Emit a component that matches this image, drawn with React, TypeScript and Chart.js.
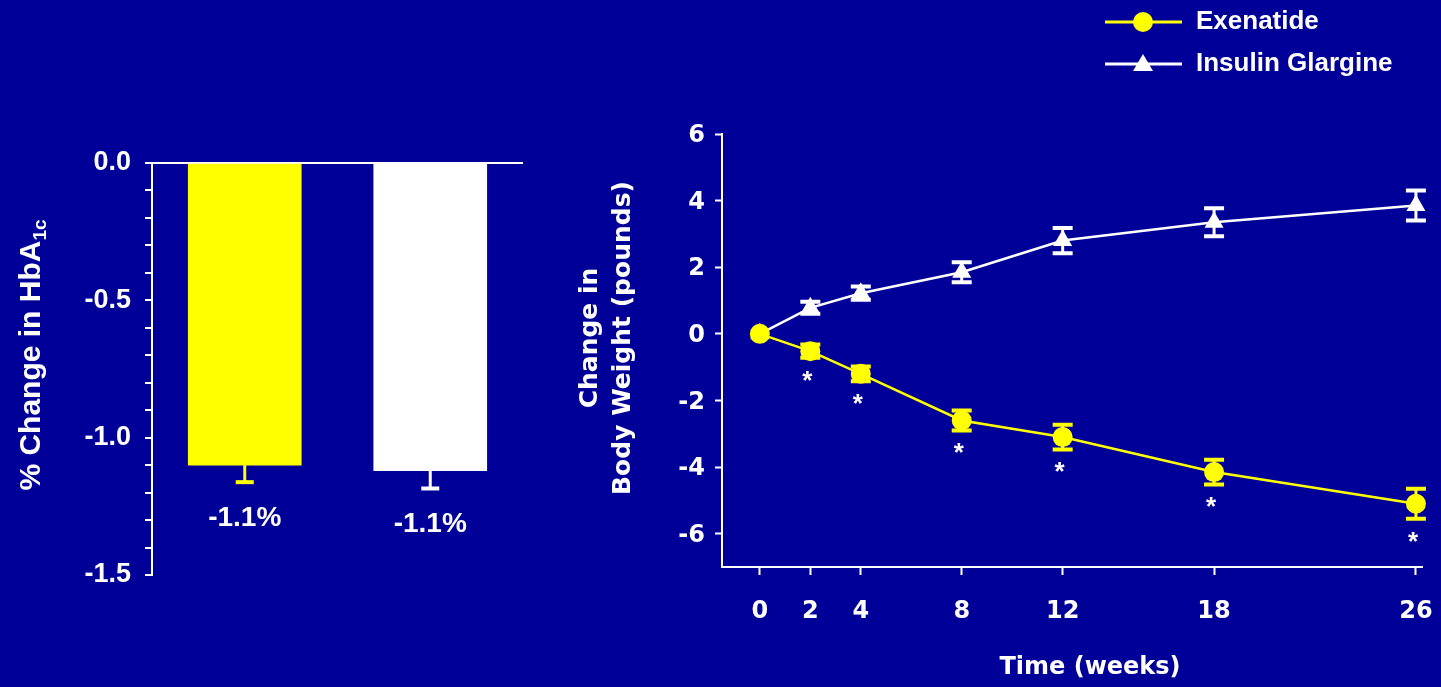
import React, { useEffect, useRef } from "react";
import { Chart, registerables } from "chart.js";

Chart.register(...registerables);

const BG = "#000099";
const YELLOW = "#FFFF00";
const WHITE = "#FFFFFF";
const ARIAL = "'Liberation Sans', Arial, sans-serif";
const WIDE = "'DejaVu Sans', Verdana, sans-serif";

// ---- Left chart: HbA1c change ----
const hba1cGroups = ["Exenatide", "Insulin Glargine"];
const hba1cChange = [-1.1, -1.12];
const hba1cError = [0.062, 0.065];
const hba1cLabels = ["-1.1%", "-1.1%"];
const hba1cColors = [YELLOW, WHITE];

// ---- Right chart: body weight change ----
const weeks = [0, 2, 4, 8, 12, 18, 26];
const exenatideWeight = [0, -0.52, -1.2, -2.6, -3.1, -4.15, -5.1];
const exenatideError = [0, 0.2, 0.22, 0.3, 0.37, 0.37, 0.45];
const glargineWeight = [0, 0.78, 1.22, 1.85, 2.8, 3.35, 3.85];
const glargineError = [0, 0.18, 0.2, 0.3, 0.38, 0.42, 0.45];
const exenatideSignificant = [false, true, true, true, true, true, true];
const weekTicks = [0, 2, 4, 8, 12, 18, 26];
const seriesNames = ["Exenatide", "Insulin Glargine"];

const leftPlugin = {
  id: "leftExtras",
  afterDatasetsDraw(chart: any) {
    const ctx = chart.ctx;
    const y = chart.scales.y;
    const meta = chart.getDatasetMeta(0);
    ctx.save();
    meta.data.forEach((bar: any, i: number) => {
      const color = hba1cColors[i];
      const top = y.getPixelForValue(hba1cChange[i]);
      const bot = y.getPixelForValue(hba1cChange[i] - hba1cError[i]);
      ctx.strokeStyle = color;
      ctx.lineWidth = 3;
      ctx.beginPath();
      ctx.moveTo(bar.x, top);
      ctx.lineTo(bar.x, bot);
      ctx.stroke();
      ctx.lineWidth = 4;
      ctx.beginPath();
      ctx.moveTo(bar.x - 9, bot);
      ctx.lineTo(bar.x + 9, bot);
      ctx.stroke();
      ctx.fillStyle = WHITE;
      ctx.font = `bold 28px ${ARIAL}`;
      ctx.textAlign = "center";
      ctx.textBaseline = "middle";
      ctx.fillText(hba1cLabels[i], bar.x, bot + 36);
    });
    // rotated y title with subscript
    const main = "% Change in HbA";
    const sub = "1c";
    ctx.translate(30, 355);
    ctx.rotate(-Math.PI / 2);
    ctx.font = `bold 30px ${ARIAL}`;
    const wMain = ctx.measureText(main).width;
    ctx.font = `bold 19px ${ARIAL}`;
    const wSub = ctx.measureText(sub).width;
    const start = -(wMain + wSub) / 2;
    ctx.fillStyle = WHITE;
    ctx.textAlign = "left";
    ctx.textBaseline = "alphabetic";
    ctx.font = `bold 30px ${ARIAL}`;
    ctx.fillText(main, start, 10);
    ctx.font = `bold 19px ${ARIAL}`;
    ctx.fillText(sub, start + wMain, 16);
    ctx.restore();
  },
};

const rightPlugin = {
  id: "rightExtras",
  beforeDatasetsDraw(chart: any) {
    const ctx = chart.ctx;
    const y = chart.scales.y;
    const series = [
      { vals: exenatideWeight, errs: exenatideError, color: YELLOW },
      { vals: glargineWeight, errs: glargineError, color: WHITE },
    ];
    ctx.save();
    series.forEach((s, di) => {
      const meta = chart.getDatasetMeta(di);
      meta.data.forEach((pt: any, i: number) => {
        if (!s.errs[i]) return;
        const yHi = y.getPixelForValue(s.vals[i] + s.errs[i]);
        const yLo = y.getPixelForValue(s.vals[i] - s.errs[i]);
        ctx.strokeStyle = s.color;
        ctx.lineWidth = 3;
        ctx.beginPath();
        ctx.moveTo(pt.x, yHi);
        ctx.lineTo(pt.x, yLo);
        ctx.stroke();
        ctx.lineWidth = 4;
        ctx.beginPath();
        ctx.moveTo(pt.x - 10, yHi);
        ctx.lineTo(pt.x + 10, yHi);
        ctx.moveTo(pt.x - 10, yLo);
        ctx.lineTo(pt.x + 10, yLo);
        ctx.stroke();
      });
    });
    ctx.restore();
  },
  afterDatasetsDraw(chart: any) {
    const ctx = chart.ctx;
    const y = chart.scales.y;
    const meta = chart.getDatasetMeta(0);
    ctx.save();
    ctx.fillStyle = WHITE;
    ctx.font = `bold 26px ${ARIAL}`;
    ctx.textAlign = "center";
    ctx.textBaseline = "alphabetic";
    meta.data.forEach((pt: any, i: number) => {
      if (!exenatideSignificant[i]) return;
      const yLo = y.getPixelForValue(exenatideWeight[i] - exenatideError[i]);
      ctx.fillText("*", pt.x - 3, yLo + 17 + 14);
    });

    // axis titles
    ctx.font = `bold 24px ${WIDE}`;
    ctx.textBaseline = "middle";
    ctx.fillText("Time (weeks)", 550, 668);
    ctx.save();
    ctx.translate(0, 338);
    ctx.rotate(-Math.PI / 2);
    ctx.font = `bold 25px ${WIDE}`;
    ctx.fillText("Change in", 0, 50);
    ctx.fillText("Body Weight (pounds)", 0, 83);
    ctx.restore();

    // legend
    const items = [
      { name: seriesNames[0], color: YELLOW, style: "circle", y: 22 },
      { name: seriesNames[1], color: WHITE, style: "triangle", y: 64 },
    ];
    items.forEach((it) => {
      ctx.strokeStyle = it.color;
      ctx.fillStyle = it.color;
      ctx.lineWidth = 3;
      ctx.beginPath();
      ctx.moveTo(565, it.y);
      ctx.lineTo(642, it.y);
      ctx.stroke();
      ctx.beginPath();
      if (it.style === "circle") {
        ctx.arc(603, it.y, 10, 0, Math.PI * 2);
      } else {
        ctx.moveTo(603, it.y - 10);
        ctx.lineTo(613, it.y + 7);
        ctx.lineTo(593, it.y + 7);
        ctx.closePath();
      }
      ctx.fill();
      ctx.fillStyle = WHITE;
      ctx.font = `bold 26px ${ARIAL}`;
      ctx.textAlign = "left";
      ctx.textBaseline = "middle";
      ctx.fillText(it.name, 656, it.y);
    });
    ctx.restore();
  },
};

export default function App() {
  const leftRef = useRef<HTMLCanvasElement | null>(null);
  const rightRef = useRef<HTMLCanvasElement | null>(null);

  useEffect(() => {
    const left = new Chart(leftRef.current as HTMLCanvasElement, {
      type: "bar",
      data: {
        labels: hba1cGroups,
        datasets: [
          {
            data: hba1cChange,
            backgroundColor: hba1cColors,
            borderWidth: 0,
            barThickness: 113,
          },
        ],
      },
      options: {
        responsive: false,
        animation: false,
        layout: { padding: { top: 163, right: 17, bottom: 112, left: 0 } },
        plugins: { legend: { display: false }, tooltip: { enabled: false } },
        scales: {
          x: { display: false },
          y: {
            min: -1.5,
            max: 0,
            afterFit: (s: any) => {
              s.width = 152;
            },
            border: { display: true, color: WHITE, width: 2 },
            grid: {
              drawOnChartArea: true,
              color: (c: any) =>
                c.tick && Math.abs(c.tick.value) < 1e-9 ? WHITE : "rgba(0,0,0,0)",
              lineWidth: 2,
              tickLength: 7,
              tickColor: WHITE,
              tickWidth: 2,
            },
            ticks: {
              stepSize: 0.1,
              maxTicksLimit: 100,
              autoSkip: false,
              color: WHITE,
              padding: 14,
              font: { family: ARIAL, size: 27, weight: "bold" },
              callback: (v: any) => {
                const r = Math.round(Number(v) * 10);
                return r % 5 === 0 ? (r / 10).toFixed(1) : "";
              },
            },
          },
        },
      },
      plugins: [leftPlugin],
    } as any);

    const right = new Chart(rightRef.current as HTMLCanvasElement, {
      type: "line",
      data: {
        datasets: [
          {
            label: seriesNames[0],
            data: weeks.map((w, i) => ({ x: w, y: exenatideWeight[i] })),
            borderColor: YELLOW,
            backgroundColor: YELLOW,
            borderWidth: 2.5,
            pointStyle: "circle",
            pointRadius: 10,
            pointBackgroundColor: YELLOW,
            pointBorderColor: YELLOW,
            pointBorderWidth: 0,
            tension: 0,
            clip: false,
          },
          {
            label: seriesNames[1],
            data: weeks.map((w, i) => ({ x: w, y: glargineWeight[i] })),
            borderColor: WHITE,
            backgroundColor: WHITE,
            borderWidth: 2.5,
            pointStyle: "triangle",
            pointRadius: 11,
            pointBackgroundColor: WHITE,
            pointBorderColor: WHITE,
            pointBorderWidth: 0,
            tension: 0,
            clip: false,
          },
        ],
      },
      options: {
        responsive: false,
        animation: false,
        layout: { padding: { top: 134, right: 19, bottom: 0, left: 0 } },
        plugins: { legend: { display: false }, tooltip: { enabled: false } },
        scales: {
          x: {
            type: "linear",
            min: -1.5,
            max: 26.24,
            afterBuildTicks: (s: any) => {
              s.ticks = weekTicks.map((v) => ({ value: v }));
            },
            afterFit: (s: any) => {
              s.height = 120;
              s.paddingLeft = 0;
              s.paddingRight = 0;
            },
            border: { display: true, color: WHITE, width: 2 },
            grid: { drawOnChartArea: false, tickLength: 8, tickColor: WHITE, tickWidth: 2 },
            ticks: {
              autoSkip: false,
              maxRotation: 0,
              color: WHITE,
              padding: 22,
              font: { family: WIDE, size: 24, weight: "bold" },
            },
          },
          y: {
            min: -7,
            max: 6,
            afterBuildTicks: (s: any) => {
              s.ticks = s.ticks.filter((t: any) => Math.round(t.value) % 2 === 0);
            },
            afterFit: (s: any) => {
              s.width = 182;
              s.paddingTop = 0;
              s.paddingBottom = 0;
            },
            border: { display: true, color: WHITE, width: 2 },
            grid: { drawOnChartArea: false, tickLength: 7, tickColor: WHITE, tickWidth: 2 },
            ticks: {
              stepSize: 2,
              autoSkip: false,
              color: WHITE,
              padding: 10,
              labelOffset: 2,
              font: { family: WIDE, size: 24, weight: "bold" },
            },
          },
        },
      },
      plugins: [rightPlugin],
    } as any);

    return () => {
      left.destroy();
      right.destroy();
    };
  }, []);

  return (
    <div
      style={{
        position: "fixed",
        left: 0,
        top: 0,
        width: 1441,
        height: 687,
        background: BG,
        overflow: "hidden",
      }}
    >
      <canvas
        ref={leftRef}
        width={540}
        height={687}
        style={{ position: "absolute", left: 0, top: 0, width: 540, height: 687 }}
      />
      <canvas
        ref={rightRef}
        width={901}
        height={687}
        style={{ position: "absolute", left: 540, top: 0, width: 901, height: 687 }}
      />
    </div>
  );
}
